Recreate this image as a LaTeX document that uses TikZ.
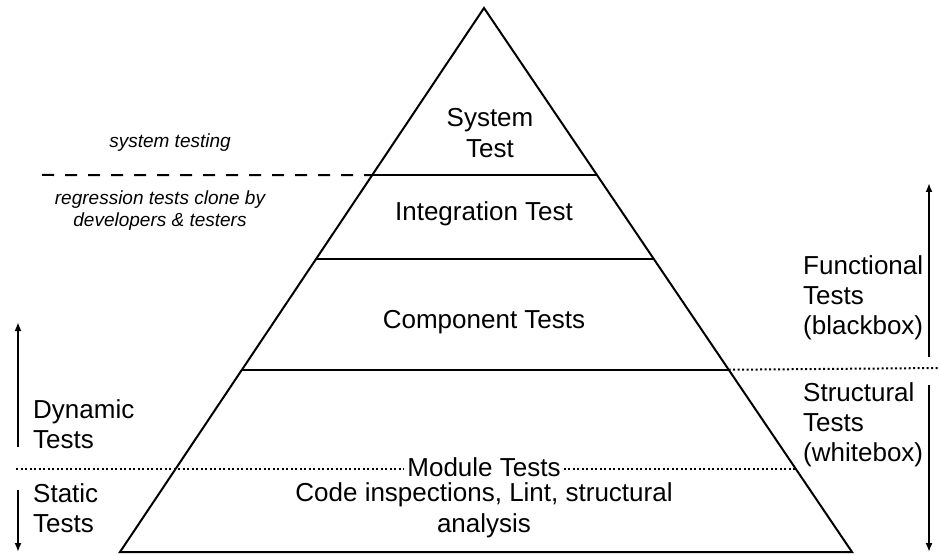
\documentclass[tikz,border=0pt]{standalone}
\usepackage{fontspec}
\setmainfont{Liberation Sans}
\usetikzlibrary{arrows.meta,calc,positioning}
\tikzset{
  pyramid/.style={
    draw=black,
    line width=2pt,
    line join=miter
  },
  layerline/.style={
    draw=black,
    line width=2.5pt
  },
  layertext/.style={
    align=center,
    inner sep=1pt,
    font=\fontsize{26}{31}\selectfont
  },
  sidetext/.style={
    align=left,
    inner sep=0pt,
    anchor=west,
    font=\fontsize{26}{30}\selectfont
  },
  notetext/.style={
    align=center,
    inner sep=0pt,
    font=\itshape\fontsize{19}{22}\selectfont
  },
  dashline/.style={
    draw=black,
    line width=2pt,
    dash pattern=on 12pt off 11pt
  },
  dotline/.style={
    draw=black,
    line width=2pt,
    dash pattern=on 2pt off 2.5pt
  },
  scalearrow/.style={
    -{Latex[length=9pt,width=7pt]},
    line width=2pt,
    draw=black
  }
}

\begin{document}
\begin{tikzpicture}[x=1pt,y=-1pt]
  \useasboundingbox (0,0) rectangle (939,556);

  \coordinate (apex) at (484,8);
  \coordinate (baseL) at (120,552);
  \coordinate (baseR) at (852,552);
  \draw[pyramid] (apex) -- (baseL) -- (baseR) -- cycle;

  % where the layer boundaries meet the two sides
  \foreach \cut/\t in {sys/0.307, integ/0.461, comp/0.665, mod/0.847} {
    \coordinate (\cut-l) at ($(apex)!\t!(baseL)$);
    \coordinate (\cut-r) at ($(apex)!\t!(baseR)$);
  }

  \draw[layerline] (sys-l) -- (sys-r);
  \draw[layerline] (integ-l) -- (integ-r);
  \draw[layerline] (comp-l) -- (comp-r);

  \node[layertext] (systest) at (490,133) {System\\Test};
  \node[layertext] (integtest) at (484,214) {Integration Test};
  \node[layertext] (comptest) at (484,322) {Component Tests};
  \node[layertext, inner xsep=3pt, inner ysep=0pt, text height=18pt, text depth=0pt] (module) at (484,467) {Module Tests};
  \node[layertext, inner sep=0pt] (codeinsp) at (484,510) {Code inspections, Lint, structural\\analysis};

  \node[notetext] (systesting) at (170,143) {system testing};
  \node[notetext] (regress) at (160,211) {regression tests clone by\\developers \& testers};

  \node[sidetext] (dynamic) at (33,424) {Dynamic\\Tests};
  \node[sidetext] (static) at (33,508) {Static\\Tests};
  \node[sidetext] (functional) at (803,298) {Functional\\Tests\\(blackbox)};
  \node[sidetext] (structural) at (803,425) {Structural\\Tests\\(whitebox)};

  \coordinate (dash-start) at (42,175);
  \draw[dashline] (dash-start) -- (sys-l);

  \coordinate (dot-start) at (16,469);
  \draw[dotline] (dot-start) -- (dot-start -| module.west);
  \draw[dotline] (module.east |- mod-r) -- (mod-r);
  \coordinate (dot-end) at (939,368);
  \draw[dotline] (comp-r) -- (dot-end);

  \coordinate (dyn-tail) at (18,447);
  \coordinate (dyn-tip) at (18,322);
  \coordinate (stat-tail) at (18,490);
  \coordinate (stat-tip) at (18,552);
  \coordinate (func-tail) at (929,357);
  \coordinate (func-tip) at (929,183);
  \coordinate (struct-tail) at (929,385);
  \coordinate (struct-tip) at (929,552);
  \draw[scalearrow] (dyn-tail) -- (dyn-tip);
  \draw[scalearrow] (stat-tail) -- (stat-tip);
  \draw[scalearrow] (func-tail) -- (func-tip);
  \draw[scalearrow] (struct-tail) -- (struct-tip);
\end{tikzpicture}
\end{document}
